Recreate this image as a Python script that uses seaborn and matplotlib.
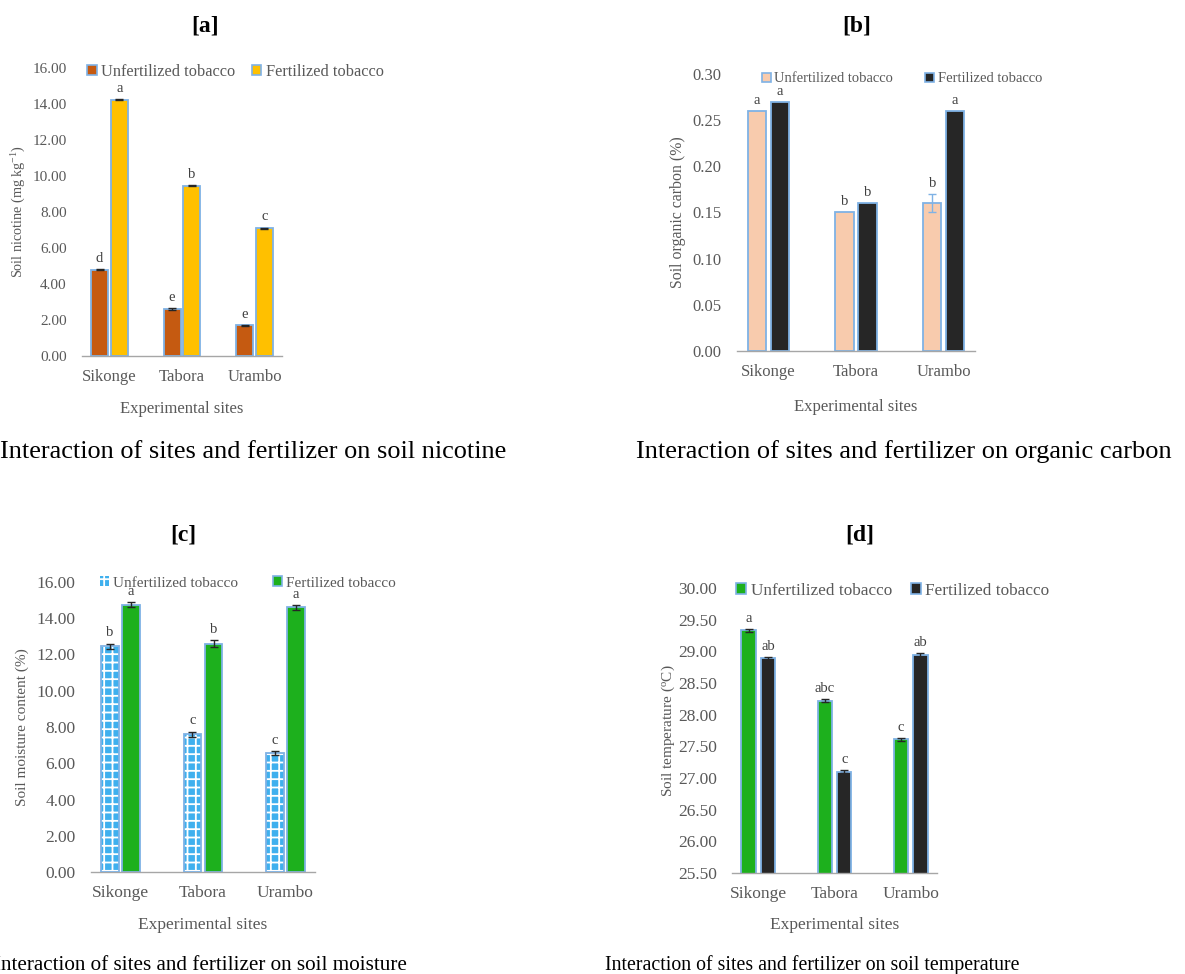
import numpy as np
import pandas as pd
import matplotlib
matplotlib.use("Agg")
import matplotlib.pyplot as plt
import seaborn as sns
from matplotlib.patches import Patch, Rectangle

# ---------------- data ----------------
sites = ["Sikonge", "Tabora", "Urambo"]
groups = ["Unfertilized tobacco", "Fertilized tobacco"]

# [a] soil nicotine (mg kg-1)
nic_unfert = [4.80, 2.60, 1.70]
nic_fert = [14.25, 9.45, 7.10]
nic_unfert_err = [0.03, 0.04, 0.03]
nic_fert_err = [0.03, 0.03, 0.03]
nic_let_unfert = ["d", "e", "e"]
nic_let_fert = ["a", "b", "c"]
nic_ticks = [0, 2, 4, 6, 8, 10, 12, 14, 16]

# [b] soil organic carbon (%)
soc_unfert = [0.26, 0.15, 0.16]
soc_fert = [0.27, 0.16, 0.26]
soc_unfert_err = [0.0, 0.0, 0.01]
soc_fert_err = [0.0, 0.0, 0.0]
soc_let_unfert = ["a", "b", "b"]
soc_let_fert = ["a", "b", "a"]
soc_ticks = [0.00, 0.05, 0.10, 0.15, 0.20, 0.25, 0.30]

# [c] soil moisture content (%)
smc_unfert = [12.45, 7.60, 6.55]
smc_fert = [14.75, 12.60, 14.60]
smc_unfert_err = [0.15, 0.15, 0.12]
smc_fert_err = [0.15, 0.18, 0.12]
smc_let_unfert = ["b", "c", "c"]
smc_let_fert = ["a", "b", "a"]
smc_ticks = [0, 2, 4, 6, 8, 10, 12, 14, 16]

# [d] soil temperature (C)
tmp_unfert = [29.33, 28.22, 27.61]
tmp_fert = [28.89, 27.10, 28.94]
tmp_unfert_err = [0.02, 0.02, 0.02]
tmp_fert_err = [0.02, 0.02, 0.03]
tmp_let_unfert = ["a", "abc", "c"]
tmp_let_fert = ["ab", "c", "ab"]
tmp_ticks = [25.5, 26.0, 26.5, 27.0, 27.5, 28.0, 28.5, 29.0, 29.5, 30.0]

# ---------------- style ----------------
sns.set_theme(style="white")
plt.rcParams["font.family"] = ["Liberation Serif", "DejaVu Serif"]
plt.rcParams["mathtext.fontset"] = "custom"
plt.rcParams["mathtext.rm"] = "Liberation Serif"
plt.rcParams["mathtext.it"] = "Liberation Serif:italic"
plt.rcParams["hatch.linewidth"] = 1.3

W, H = 1185, 974
fig = plt.figure(figsize=(W / 100, H / 100), dpi=100)
fig.patch.set_facecolor("white")

EDGE = "#7FB2E5"
GRAY = "#595959"
AXLINE = "#A6A6A6"


def rect(x0, x1, ytop, ybot):
    return [x0 / W, 1 - ybot / H, (x1 - x0) / W, (ybot - ytop) / H]


def panel(r, unf, fer, unf_err, fer_err, let_u, let_f, colors, ylim, ticks,
          ylabel, width, gap, ytick_fs, xtick_fs, ylab_fs, ylab_x, xlab_y,
          err_color="#262626", hatch_unf=False, let_fs=10.5):
    ax = fig.add_axes(r)
    df = pd.DataFrame({
        "site": sites * 2,
        "group": [groups[0]] * 3 + [groups[1]] * 3,
        "value": list(unf) + list(fer),
    })
    sns.barplot(data=df, x="site", y="value", hue="group", order=sites,
                hue_order=groups, palette=colors, width=width, gap=gap,
                saturation=1, errorbar=None, edgecolor=EDGE, linewidth=1.3,
                ax=ax, legend=False)
    ax.set_ylim(*ylim)
    ax.set_yticks(ticks)
    ax.set_yticklabels(["%.2f" % t for t in ticks])
    ax.tick_params(axis="y", length=0, pad=11, labelsize=ytick_fs, labelcolor=GRAY)
    ax.tick_params(axis="x", length=0, pad=9.5, labelsize=xtick_fs, labelcolor=GRAY)
    for s in ["top", "right", "left"]:
        ax.spines[s].set_visible(False)
    ax.spines["bottom"].set_color(AXLINE)
    ax.spines["bottom"].set_linewidth(1.0)
    ax.set_facecolor("none")
    ax.set_ylabel(ylabel, fontsize=ylab_fs, color=GRAY)
    ax.yaxis.set_label_coords(ylab_x, 0.5)
    ax.set_xlabel("Experimental sites", fontsize=xtick_fs, color=GRAY)
    ax.xaxis.set_label_coords(0.5, xlab_y)

    for ci, (vals, errs, lets) in enumerate(
            [(unf, unf_err, let_u), (fer, fer_err, let_f)]):
        cont = ax.containers[ci]
        for bar, v, e, l in zip(cont, vals, errs, lets):
            xc = bar.get_x() + bar.get_width() / 2
            if hatch_unf and ci == 0:
                bar.set_edgecolor("white")
                bar.set_hatch("++")
                bar.set_linewidth(0.0)
                bottom = max(ylim[0], 0)
                ax.add_patch(Rectangle((bar.get_x(), bottom), bar.get_width(),
                                       v - bottom, fill=False,
                                       edgecolor=EDGE, linewidth=1.3, zorder=3))
            if e > 0:
                ax.errorbar(xc, v, yerr=e, fmt="none", ecolor=err_color,
                            elinewidth=1.0, capsize=3, capthick=1.0, zorder=4)
            ax.annotate(l, (xc, v + e), xytext=(0, 3), textcoords="offset points",
                        ha="center", va="bottom", fontsize=let_fs, color="#404040")
    return ax


# [a]
panel(rect(82, 282, 68, 356), nic_unfert, nic_fert, nic_unfert_err, nic_fert_err,
      nic_let_unfert, nic_let_fert, ["#C55A11", "#FFC000"], (0, 16), nic_ticks,
      "Soil nicotine (mg kg$^{-1}$)", 0.55, 0.15, 11, 12, 10.2, -0.27, -0.156)
# [b]
panel(rect(737, 975, 74, 351), soc_unfert, soc_fert, soc_unfert_err, soc_fert_err,
      soc_let_unfert, soc_let_fert, ["#F8CBAD", "#262626"], (0, 0.30), soc_ticks,
      "Soil organic carbon (%)", 0.52, 0.2, 12, 12, 11.4, -0.216, -0.173,
      err_color=EDGE)
# [c]
panel(rect(91, 315, 582, 872), smc_unfert, smc_fert, smc_unfert_err, smc_fert_err,
      smc_let_unfert, smc_let_fert, ["#3FB0EE", "#1DB01D"], (0, 16), smc_ticks,
      "Soil moisture content (%)", 0.51, 0.15, 12.5, 12.5, 11, -0.275, -0.155,
      hatch_unf=True)
# [d]
panel(rect(732, 937, 588, 873), tmp_unfert, tmp_fert, tmp_unfert_err, tmp_fert_err,
      tmp_let_unfert, tmp_let_fert, ["#1DB01D", "#262626"], (25.5, 30), tmp_ticks,
      "Soil temperature ($^{\\rm o}$C)", 0.51, 0.25, 12.5, 12.5, 11, -0.27, -0.154)


def legend(xpx, ypx, colors, fs, colsp, hatch_first=False):
    hs = []
    for i, c in enumerate(colors):
        if hatch_first and i == 0:
            hs.append(Patch(facecolor=c, edgecolor="white", hatch="++", linewidth=0))
        else:
            hs.append(Patch(facecolor=c, edgecolor=EDGE, linewidth=1.2))
    fig.legend(hs, groups, loc="center left",
               bbox_to_anchor=(xpx / W, 1 - ypx / H), ncol=2, frameon=False,
               fontsize=fs, handlelength=0.6, handleheight=0.6,
               handletextpad=0.25, columnspacing=colsp, borderpad=0,
               borderaxespad=0, labelcolor=GRAY)


legend(87, 72, ["#C55A11", "#FFC000"], 11.8, 1.0)
legend(762, 79, ["#F8CBAD", "#262626"], 10.5, 2.2)
legend(100, 583, ["#3FB0EE", "#1DB01D"], 11, 2.3, hatch_first=True)
legend(736, 591, ["#1DB01D", "#262626"], 12.4, 1.1)

# panel titles
for lab, x, y in [("[a]", 205, 26), ("[b]", 857, 26), ("[c]", 183, 535), ("[d]", 860, 535)]:
    fig.text(x / W, 1 - y / H, lab, ha="center", va="center", fontsize=17,
             fontweight="bold", color="black")

# captions
caps = [("Interaction of sites and fertilizer on soil nicotine", 0, 452, 18.9),
        ("Interaction of sites and fertilizer on organic carbon", 636, 452, 19),
        ("Interaction of sites and fertilizer on soil moisture", -6, 965, 15.2),
        ("Interaction of sites and fertilizer on soil temperature", 605, 965, 14.3)]
for t, x, y, fs in caps:
    fig.text(x / W, 1 - y / H, t, ha="left", va="center", fontsize=fs, color="black")

fig.savefig("out.png", dpi=100)
